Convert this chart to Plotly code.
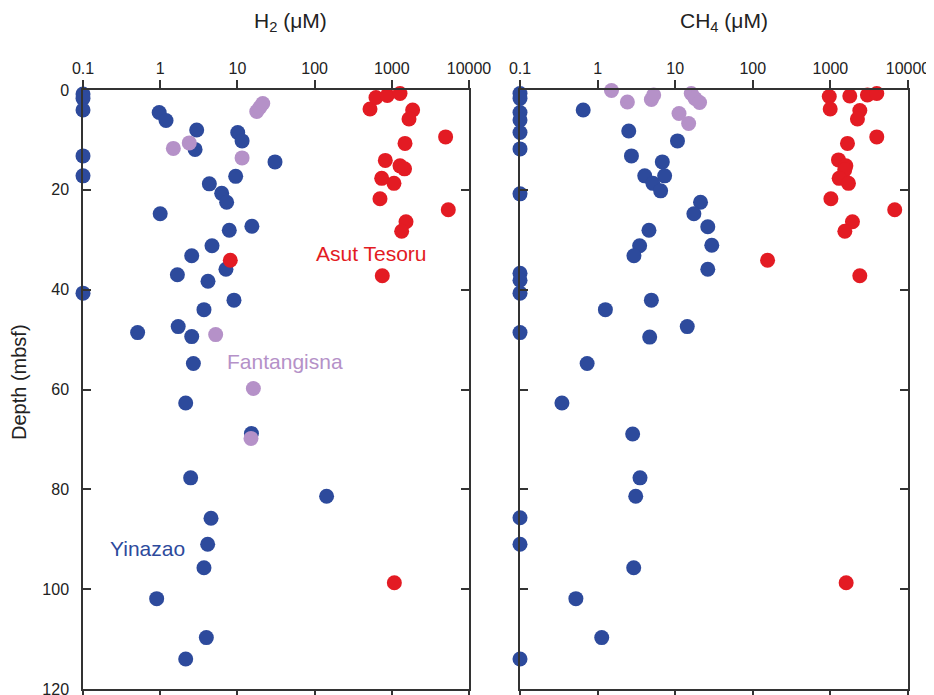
import plotly.graph_objects as go

# ---------------- data ----------------
# H2 panel
h2_yin_x = [0.1, 0.1, 0.1, 0.1, 0.1, 0.1, 0.97, 1.19, 2.97, 2.83, 10.1, 11.5, 30.7, 9.5, 4.33, 6.26,
            7.26, 1.0, 7.85, 15.4, 4.69, 2.56, 7.11, 1.67, 4.16, 9.03, 3.69, 0.51, 1.71, 2.56,
            2.69, 2.14, 15.2, 2.48, 143, 4.55, 4.12, 3.69, 0.90, 3.96, 2.14]
h2_yin_d = [0.8, 1.7, 4.0, 13.2, 17.2, 40.7, 4.5, 6.1, 8.0, 11.9, 8.5, 10.2, 14.4, 17.3, 18.8, 20.7,
            22.5, 24.8, 28.1, 27.3, 31.2, 33.2, 35.9, 37.0, 38.3, 42.1, 44.0, 48.6, 47.4, 49.4,
            54.8, 62.7, 68.8, 77.7, 81.4, 85.8, 91.0, 95.7, 101.9, 109.7, 114.0]

h2_asut_x = [522, 624, 875, 1277, 1862, 1671, 4977, 1483, 824, 1277, 1462, 740, 1067, 703, 5392,
             1527, 1342, 8.09, 753, 1079]
h2_asut_d = [3.8, 1.5, 1.1, 0.7, 4.0, 5.8, 9.4, 10.7, 14.1, 15.2, 15.8, 17.7, 18.7, 21.8, 24.0,
             26.4, 28.3, 34.1, 37.2, 98.7]

h2_fan_x = [1.48, 2.38, 11.5, 17.8, 19.5, 21.3, 5.23, 16.1, 15.0]
h2_fan_d = [11.7, 10.6, 13.6, 4.3, 3.5, 2.7, 49.0, 59.8, 69.8]

# CH4 panel
ch4_yin_x = [0.1, 0.1, 0.1, 0.1, 0.1, 0.1, 0.1, 0.1, 0.1, 0.1, 0.1, 0.652, 2.52, 2.73, 10.7, 6.82,
             4.05, 7.31, 5.16, 6.49, 21.2, 17.4, 4.59, 26.3, 29.6, 3.48, 2.94, 26.3, 4.93, 1.26,
             14.3, 4.69, 0.733, 0.347, 2.83, 3.52, 3.10, 0.1, 0.1, 2.92, 0.525, 1.13, 0.1]
ch4_yin_d = [0.7, 1.7, 4.5, 6.0, 8.5, 11.8, 20.8, 36.7, 38.1, 40.7, 48.6, 4.0, 8.2, 13.2, 10.2, 14.4,
             17.2, 17.2, 18.7, 20.2, 22.5, 24.8, 28.1, 27.4, 31.1, 31.2, 33.2, 35.9, 42.1, 44.0,
             47.4, 49.5, 54.8, 62.7, 68.9, 77.7, 81.4, 85.7, 91.0, 95.7, 101.9, 109.7, 114.0]

ch4_asut_x = [967, 994, 1778, 2999, 3960, 2393, 2230, 3960, 1660, 1271, 1581, 1530, 1297, 1710,
              1015, 6745, 1923, 1535, 155, 2393, 1596]
ch4_asut_d = [1.3, 3.8, 1.2, 1.0, 0.7, 4.1, 5.8, 9.4, 10.7, 14.0, 15.2, 16.0, 17.7, 18.7,
              21.8, 24.0, 26.4, 28.3, 34.1, 37.2, 98.7]

ch4_fan_x = [1.51, 2.42, 4.93, 5.28, 16.1, 18.0, 20.6, 11.2, 14.9]
ch4_fan_d = [0.1, 2.4, 1.9, 1.0, 0.7, 1.7, 2.5, 4.7, 6.7]

x_tickvals = [0.1, 1, 10, 100, 1000, 10000]
x_ticktext = ["0.1", "1", "10", "100", "1000", "10000"]
y_tickvals = [0, 20, 40, 60, 80, 100, 120]

BLUE = "#2D4A9C"
RED = "#E31B23"
LILAC = "#B591C8"
AXC = "#333333"
FONT = "Arial"

fig = go.Figure()

def add(xs, ds, color, xa, ya):
    fig.add_trace(go.Scatter(x=xs, y=ds, mode="markers", xaxis=xa, yaxis=ya,
                             marker=dict(size=15, color=color, line=dict(width=0)),
                             cliponaxis=False, showlegend=False, hoverinfo="x+y"))

add(h2_yin_x, h2_yin_d, BLUE, "x", "y")
add(h2_asut_x, h2_asut_d, RED, "x", "y")
add(h2_fan_x, h2_fan_d, LILAC, "x", "y")
add(ch4_yin_x, ch4_yin_d, BLUE, "x2", "y2")
add(ch4_asut_x, ch4_asut_d, RED, "x2", "y2")
add(ch4_fan_x, ch4_fan_d, LILAC, "x2", "y2")

W, H = 934, 695
OFF = 8  # page body margin offset
ydom = [(H - (689 - OFF)) / H, (H - (90 - OFF)) / H]

xcommon = dict(type="log", range=[-1, 4], side="top", tickvals=x_tickvals, ticktext=x_ticktext,
               ticks="outside", ticklen=8, tickwidth=1.5, tickcolor=AXC,
               showline=True, linecolor=AXC, linewidth=1.5, mirror="ticks",
               showgrid=False, zeroline=False, automargin=False,
               tickfont=dict(family=FONT, size=16, color="#222222"))
ycommon = dict(range=[120, 0], tickvals=y_tickvals, ticks="inside", ticklen=8, tickwidth=1.5,
               tickcolor=AXC, showline=True, linecolor=AXC, linewidth=1.5, mirror="ticks",
               showgrid=False, zeroline=False, domain=ydom, automargin=False,
               tickfont=dict(family=FONT, size=16, color="#222222"))

fig.update_layout(
    template="none",
    width=W, height=H,
    margin=dict(l=0, r=0, t=0, b=0, pad=0),
    paper_bgcolor="white", plot_bgcolor="white",
    xaxis=dict(**xcommon, domain=[(83 - OFF) / W, (469 - OFF) / W], anchor="y"),
    xaxis2=dict(**xcommon, domain=[(520 - OFF) / W, (908 - OFF) / W], anchor="y2"),
    yaxis=dict(**ycommon, anchor="x", ticklabelstandoff=9),
    yaxis2=dict(**ycommon, anchor="x2", showticklabels=False),
    font=dict(family=FONT),
)

def px(x):
    return (x - OFF) / W

def py(y):
    return 1 - (y - OFF) / H

ann = [
    dict(text="H<sub>2</sub> (μM)", x=px(290), y=py(22), xref="paper", yref="paper",
         showarrow=False, font=dict(size=21, color="#222222"), xanchor="center", yanchor="middle"),
    dict(text="CH<sub>4</sub> (μM)", x=px(724), y=py(22), xref="paper", yref="paper",
         showarrow=False, font=dict(size=21, color="#222222"), xanchor="center", yanchor="middle"),
    dict(text="Depth (mbsf)", x=px(19), y=py(382), xref="paper", yref="paper", textangle=-90,
         showarrow=False, font=dict(size=20, color="#222222"), xanchor="center", yanchor="middle"),
    dict(text="Asut Tesoru", x=2.743, y=32.7, xref="x", yref="y", showarrow=False,
         font=dict(size=21, color=RED), xanchor="center", yanchor="middle"),
    dict(text="Fantangisna", x=1.617, y=54.3, xref="x", yref="y", showarrow=False,
         font=dict(size=21, color=LILAC), xanchor="center", yanchor="middle"),
    dict(text="Yinazao", x=-0.171, y=91.8, xref="x", yref="y", showarrow=False,
         font=dict(size=21, color=BLUE), xanchor="center", yanchor="middle"),
]
fig.update_layout(annotations=ann)

fig.write_html("out.html")
